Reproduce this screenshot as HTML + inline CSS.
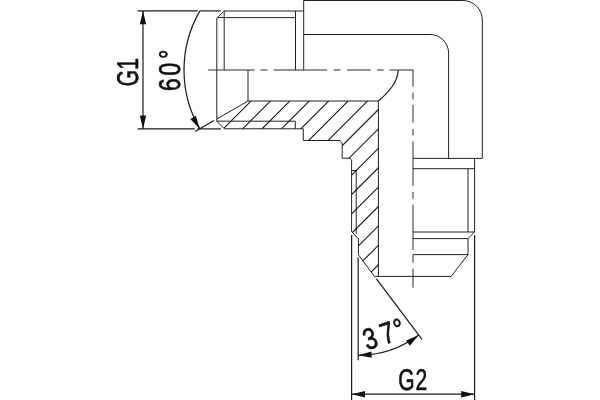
<!DOCTYPE html>
<html><head><meta charset="utf-8"><title>Fitting</title>
<style>
html,body{margin:0;padding:0;background:#fff;}
body{width:600px;height:400px;overflow:hidden;}
svg{display:block;}
.o{stroke:#222;stroke-width:1;fill:none;}
.d{stroke:#1a1a1a;stroke-width:1.2;fill:none;}
.c{stroke:#2a2a2a;stroke-width:1;fill:none;}
.h{stroke:#1a1a1a;stroke-width:1.1;fill:none;}
.a{fill:#111;stroke:none;}
text{font-family:"Liberation Sans",sans-serif;fill:#111;text-rendering:geometricPrecision;}
.t{opacity:0.999;}
.t text{stroke:#111;stroke-width:0.65;stroke-linejoin:round;}
</style></head>
<body>
<svg width="600" height="400" viewBox="0 0 600 400">
<defs><clipPath id="hc"><path d="M216.8,119 L248,101 L378.4,101 L378.4,276.4 L374.4,276.4 L358.4,254.7 L358.4,238.8 L351.6,231.5 L351.6,160.2 L349.8,158.2 L342.2,158.2 L342.2,143.8 L340,140.5 L303.3,140.5 L303.3,128.8 L224.4,128.8 L216.8,121.2 Z"/></clipPath></defs>
<rect width="600" height="400" fill="#fff"/>
<line class="d" x1="137.5" y1="10.9" x2="197.8" y2="10.9"/>
<line class="d" x1="199.6" y1="10.9" x2="220.8" y2="10.9"/>
<line class="d" x1="137.5" y1="128.9" x2="194.8" y2="128.9"/>
<line class="d" x1="197.5" y1="128.9" x2="221" y2="128.9"/>
<line class="d" x1="143" y1="11" x2="143" y2="128.8"/>
<polygon class="a" points="143.00,10.90 146.20,24.30 139.80,24.30"/>
<polygon class="a" points="143.00,128.90 139.80,115.50 146.20,115.50"/>
<path class="d" d="M199.78,11.10 A117.8,117.8 0 0 0 199.78,128.90"/>
<polygon class="a" points="199.78,128.90 190.31,118.90 195.85,115.70"/>
<line class="d" x1="195.1" y1="131.6" x2="213.9" y2="120.4"/>
<path class="o" d="M216.8,121.2 L216.8,18.2 L224.2,11 L303.7,11"/>
<line class="o" x1="224.2" y1="11" x2="224.2" y2="70"/>
<line class="o" x1="217.4" y1="17.6" x2="295.5" y2="17.6"/>
<line class="o" x1="295.5" y1="11" x2="295.5" y2="70"/>
<line class="o" x1="303.7" y1="0.5" x2="303.7" y2="70"/>
<line class="o" x1="248" y1="70" x2="248" y2="101"/>
<path class="o" d="M216.8,119 L248,101 L378.4,101 L378.4,276.4"/>
<path class="o" d="M216.8,121.2 L224.4,128.8 L303.3,128.8 L303.3,140.5 L340,140.5 L342.2,143.8 L342.2,158.2 L349.8,158.2 L351.6,160.2 L351.6,231.5 L358.4,238.8 L358.4,254.7 L374.4,276.4 L451.1,276.4 L468,254.6 L468,238.6 L474.6,232 L474.6,158.4"/>
<line class="o" x1="216.8" y1="121.2" x2="295.3" y2="121.2"/>
<line class="o" x1="295.3" y1="121.2" x2="295.3" y2="128.8"/>
<path class="o" d="M351.6,170.5 L356.2,170.5 L356.2,234"/>
<path class="o" d="M303.7,0.5 L462.8,0.5 A19.5,19.5 0 0 1 482.3,20 L482.3,158.4 L413,158.4"/>
<path class="o" d="M303.7,34.5 L430,34.5 A18.6,18.6 0 0 1 448.6,53.1 L448.6,158.4"/>
<line class="o" x1="413" y1="168.7" x2="474.6" y2="168.7"/>
<line class="o" x1="468" y1="168.7" x2="468" y2="232"/>
<line class="o" x1="413" y1="232" x2="474.6" y2="232"/>
<line class="o" x1="413" y1="238.6" x2="468" y2="238.6"/>
<line class="o" x1="413" y1="254.6" x2="468" y2="254.6"/>
<path class="d" d="M398.3,70 C397.5,82 390,91 378.4,101"/>
<g clip-path="url(#hc)"><path class="h" d="M52.10,300 L262.10,90 M71.50,300 L281.50,90 M90.90,300 L300.90,90 M110.30,300 L320.30,90 M129.70,300 L339.70,90 M149.10,300 L359.10,90 M168.50,300 L378.50,90 M187.90,300 L397.90,90 M207.30,300 L417.30,90 M226.70,300 L436.70,90 M246.10,300 L456.10,90 M265.50,300 L475.50,90 M284.90,300 L494.90,90 M304.30,300 L514.30,90 M323.70,300 L533.70,90 M343.10,300 L553.10,90"/></g>
<line class="c" x1="208.25" y1="70" x2="254.5" y2="70"/>
<line class="c" x1="260.5" y1="70" x2="267.5" y2="70"/>
<line class="c" x1="273.75" y1="70" x2="327" y2="70"/>
<line class="c" x1="333.75" y1="70" x2="340.5" y2="70"/>
<line class="c" x1="347" y1="70" x2="370.75" y2="70"/>
<line class="c" x1="377" y1="70" x2="383.7" y2="70"/>
<line class="c" x1="389.5" y1="70" x2="413.5" y2="70"/>
<line class="c" x1="413" y1="70" x2="413" y2="86.5"/>
<line class="c" x1="413" y1="92.5" x2="413" y2="99.5"/>
<line class="c" x1="413" y1="105" x2="413" y2="122.5"/>
<line class="c" x1="413" y1="129" x2="413" y2="135.5"/>
<line class="c" x1="413" y1="141.5" x2="413" y2="185.8"/>
<line class="c" x1="413" y1="192" x2="413" y2="198.7"/>
<line class="c" x1="413" y1="204.7" x2="413" y2="250"/>
<line class="c" x1="413" y1="254.8" x2="413" y2="262.5"/>
<line class="c" x1="413" y1="268.8" x2="413" y2="287.7"/>
<line class="d" x1="351.6" y1="235" x2="351.6" y2="400"/>
<line class="d" x1="474.6" y1="235" x2="474.6" y2="400"/>
<line class="d" x1="351.6" y1="394.2" x2="474.6" y2="394.2"/>
<polygon class="a" points="351.60,394.20 365.00,391.00 365.00,397.40"/>
<polygon class="a" points="474.60,394.20 461.20,397.40 461.20,391.00"/>
<line class="d" x1="358.2" y1="257.5" x2="358.2" y2="360.3"/>
<line class="d" x1="376.43" y1="278.90" x2="421.99" y2="339.36"/>
<path class="d" d="M358.2,355.30 A100.6,100.6 0 0 0 418.74,335.04"/>
<polygon class="a" points="358.20,355.30 371.42,351.43 371.74,357.83"/>
<polygon class="a" points="418.74,335.04 409.97,345.66 406.12,340.55"/>
<g class="t">
<text transform="translate(138.4,86.2) rotate(-90) scale(0.7,1)" font-size="30" letter-spacing="0">G1</text>
<text transform="translate(180,91.2) rotate(-90) scale(0.78,1)" font-size="30" letter-spacing="3">60<tspan dx="1.8">°</tspan></text>
<text transform="translate(367,350.5) rotate(-18.5) scale(0.8,1)" font-size="30" letter-spacing="2.5">3<tspan dx="3.5">7</tspan><tspan dx="-1.5">°</tspan></text>
<text transform="translate(398.2,389.8) scale(0.7,1)" font-size="30" letter-spacing="1.5">G2</text>
</g>
</svg>
</body></html>
